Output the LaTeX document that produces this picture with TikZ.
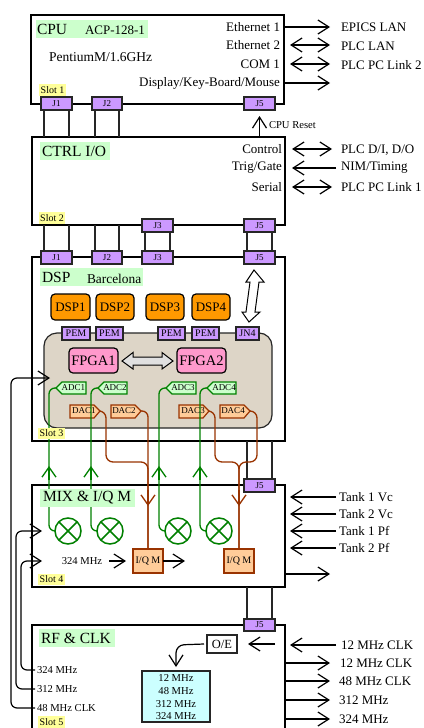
\documentclass[tikz,border=0pt]{standalone}
\usepackage{fontspec}
\setmainfont{Liberation Serif}
\usetikzlibrary{arrows.meta}
\definecolor{lblgreen}{HTML}{CCFFCC}
\definecolor{lblyellow}{HTML}{FFFF99}
\definecolor{conpurple}{HTML}{CC99FF}
\definecolor{dsporange}{HTML}{FF9900}
\definecolor{fpgapink}{HTML}{FF99CC}
\definecolor{clkcyan}{HTML}{CCFFFF}
\definecolor{peach}{HTML}{FFCC99}
\definecolor{sigbrown}{HTML}{993300}
\definecolor{siggreen}{HTML}{008000}
\definecolor{tanfill}{HTML}{DDD5C7}
\newcommand{\fs}[1]{\fontsize{#1}{#1}\selectfont}
% style, name, x1, y1, x2, y2, text
\newcommand{\rn}[7]{\node[#1,minimum width={(#5-#3)*1pt},minimum height={(#6-#4)*1pt}] (#2) at ({(#3+#5)/2},{(#4+#6)/2}) {#7};}
\newcommand{\wiresup}[2]{\draw[wire] ([xshift=3pt]#1.north west) -- ([xshift=3pt]#1.north west |- #2);\draw[wire] ([xshift=-3pt]#1.north east) -- ([xshift=-3pt]#1.north east |- #2);}
\newcommand{\wiresdown}[2]{\draw[wire] ([xshift=3pt]#1.south west) -- ([xshift=3pt]#1.south west |- #2);\draw[wire] ([xshift=-3pt]#1.south east) -- ([xshift=-3pt]#1.south east |- #2);}
\tikzset{
  x=1pt,y=-1pt,
  every node/.style={inner sep=0pt,outer sep=0pt},
  board/.style={draw=black,line width=1.4pt,fill=white},
  wire/.style={draw=black!85,line width=1.2pt},
  conn/.style={draw=black!85,line width=1.2pt,fill=conpurple,font=\fs{9}},
  pem/.style={conn,font=\fs{10}},
  lbl/.style={fill=lblgreen},
  slot/.style={fill=lblyellow,font=\fs{10}},
  dspbox/.style={draw=black,line width=1.2pt,fill=dsporange,rounded corners=4pt,font=\fs{13}},
  fpgabox/.style={draw=black,line width=1.2pt,fill=fpgapink,rounded corners=4pt,font=\fs{14.5}},
  iqbox/.style={draw=sigbrown,line width=1.2pt,fill=peach,font=\fs{10}},
  arr/.style={draw=black,line width=1.2pt,-{Straight Barb[length=11pt,width=14pt]}},
  darr/.style={draw=black,line width=1.2pt,{Straight Barb[length=11pt,width=14pt]}-{Straight Barb[length=11pt,width=14pt]}},
  gline/.style={draw=siggreen,line width=1.3pt},
  bline/.style={draw=sigbrown,line width=1.3pt},
  garr/.style={gline,-{Straight Barb[length=10pt,width=14pt]}},
  barr/.style={bline,-{Straight Barb[length=10pt,width=14pt]}},
  mixer/.style={circle,draw=siggreen,line width=1.5pt,minimum size=26pt,fill=white},
  txt/.style={font=\fs{13}},
  rtxt/.style={txt,anchor=west},
  ltxt/.style={txt,anchor=east},
  small/.style={font=\fs{10.6},anchor=west},
  blockarrow/.style={draw=black,line width=1pt,fill=white},
}
\begin{document}
\begin{tikzpicture}
\clip (0,0) rectangle (423,728);
\fill[white] (0,0) rectangle (423,728);
% boards
\rn{board}{cpu}{31}{15}{284}{104}{}
\rn{board}{ctrl}{32}{137}{285}{225}{}
\rn{board}{dsp}{32}{257}{285}{441}{}
\rn{board}{mix}{32}{485}{285}{587}{}
\rn{board}{rf}{32}{625}{285}{740}{}
\rn{draw=black!85,line width=1.2pt,fill=tanfill,rounded corners=13pt}{fpgaarea}{44}{333}{272}{428}{}
% column coordinates
\coordinate (rx) at (330,0);
\coordinate (rxin) at (290,0);
\coordinate (srcx) at (336,0);
% connectors
\rn{conn}{cj1}{41}{97}{72}{110}{J1}
\rn{conn}{cj2}{92}{97}{122}{110}{J2}
\rn{conn}{cj5}{244}{97}{275}{110}{J5}
\rn{conn}{tj3}{142}{219}{173}{232}{J3}
\rn{conn}{tj5}{244}{219}{275}{232}{J5}
\rn{conn}{dj1}{41}{251}{72}{264}{J1}
\rn{conn}{dj2}{92}{251}{122}{264}{J2}
\rn{conn}{dj3}{142}{251}{173}{264}{J3}
\rn{conn}{dj5}{244}{251}{275}{264}{J5}
\rn{conn}{mj5}{244}{479}{275}{492}{J5}
\rn{conn}{rj5}{244}{619}{275}{631}{J5}
\wiresdown{cj1}{ctrl.north}
\wiresdown{cj2}{ctrl.north}
\wiresup{dj1}{ctrl.south}
\wiresup{dj2}{ctrl.south}
\wiresup{dj3}{tj3.south}
\wiresup{dj5}{tj5.south}
\wiresup{mj5}{dsp.south}
\wiresup{rj5}{mix.south}
% CPU reset
\draw[arr] (cj5.south |- ctrl.north) -- ([yshift=-6pt]cj5.south);
\node[font=\fs{10.6},anchor=west] (cpureset) at (269,125) {CPU Reset};
% DSP chips
\rn{dspbox}{d1}{51}{294}{90}{320}{DSP1}
\rn{dspbox}{d2}{96}{294}{134}{320}{DSP2}
\rn{dspbox}{d3}{146}{294}{184}{320}{DSP3}
\rn{dspbox}{d4}{192}{294}{230}{320}{DSP4}
\rn{pem}{p1}{62}{327}{90}{340}{PEM}
\rn{pem}{p2}{96}{327}{123}{340}{PEM}
\rn{pem}{p3}{158}{327}{185}{340}{PEM}
\rn{pem}{p4}{192}{327}{219}{340}{PEM}
\rn{pem}{jn4}{236}{327}{259}{340}{JN4}
\rn{fpgabox}{f1}{69}{348}{118}{373}{FPGA1}
\rn{fpgabox}{f2}{177}{348}{226}{373}{FPGA2}
% block arrows
\draw[blockarrow,fill=black!12] (122,361) -- (133,352.5) -- (133,357) -- (162,357) -- (162,352.5) -- (173,361) -- (162,369) -- (162,365) -- (133,365) -- (133,369) -- cycle;
\draw[blockarrow] (254,270) -- (264,282) -- (259,282) -- (255,312) -- (260,312) -- (249,322) -- (242,312) -- (246,312) -- (250,282) -- (246,282) -- cycle;
% mixers
\node[mixer] (m1) at (68,531) {};
\node[mixer] (m2) at (110,531) {};
\node[mixer] (m3) at (178,531) {};
\node[mixer] (m4) at (219,531) {};
\foreach \m in {m1,m2,m3,m4}{
  \draw[draw=siggreen,line width=1.5pt] (\m.45) -- (\m.225) (\m.135) -- (\m.315);
}
% I/Q
\rn{iqbox}{iq1}{133}{549}{163}{573}{I/Q M}
\rn{iqbox}{iq2}{224}{549}{254}{573}{I/Q M}
% ADC/DAC pentagons
\foreach \n/\xa/\xb in {a1/56/86,a2/98/127,a3/166/196,a4/207/236}{
  \draw[draw=siggreen,line width=1.2pt,fill=lblgreen] (\xa,388) -- (\xa+6,382) -- (\xb,382) -- (\xb,394) -- (\xa+6,394) -- cycle;
  \coordinate (\n t) at (\xa,388);
}
\foreach \n/\xa/\xb in {d1/70/100,d2/111/141,d3/179/209,d4/220/250}{
  \draw[draw=sigbrown,line width=1.2pt,fill=peach] (\xa,405) -- (\xb-6,405) -- (\xb,411) -- (\xb-6,418) -- (\xa,418) -- cycle;
  \coordinate (\n t) at (\xb,411);
}
% green signal lines
\coordinate (w1) at (49,0);\coordinate (w2) at (91,0);\coordinate (w3) at (159,0);\coordinate (w4) at (200,0);
\draw[gline,rounded corners=6pt] (a1t) -- (a1t -| w1) -- (m1.west -| w1) -- (m1.west);
\draw[gline,rounded corners=6pt] (a2t) -- (a2t -| w2) -- (m2.west -| w2) -- (m2.west);
\draw[gline,rounded corners=6pt] (a3t) -- (a3t -| w3) -- (m3.west -| w3) -- (m3.west);
\draw[gline,rounded corners=6pt] (a4t) -- (a4t -| w4) -- (m4.west -| w4) -- (m4.west);
\draw[garr] (49,480) -- (49,466);
\draw[garr] (91,480) -- (91,466);
\draw[garr] (159,480) -- (159,466);
\draw[garr] (200,480) -- (200,466);
% brown signal lines
\draw[bline,rounded corners=7pt] (d1t) -- (106,411) -- (106,462) -- (148,462) -- (iq1.north);
\draw[bline,rounded corners=6pt] (d2t) -- (148,411) -- (iq1.north);
\draw[bline,rounded corners=7pt] (d3t) -- (215,411) -- (215,462) -- (239,462) -- (iq2.north);
\draw[bline,rounded corners=7pt] (d4t) -- (257,411) -- (257,462) -- (239,462) -- (iq2.north);
\draw[barr] (148,490) -- (148,506);
\draw[barr] (239,490) -- (239,506);
% green labels, above the lines
\rn{lbl}{cpulbl}{36}{20}{148}{38}{}
\rn{lbl}{ctrllbl}{40}{142}{110}{160}{}
\rn{lbl}{dsplbl}{40}{268}{143}{286}{}
\rn{lbl}{mixlbl}{40}{489}{135}{507}{}
\rn{lbl}{rflbl}{39}{629}{115}{647}{}
% pentagon texts
\foreach \n/\c/\t in {ta1/73.5/ADC1,ta2/115/ADC2,ta3/183/ADC3,ta4/224/ADC4}{
  \node[font=\fs{9}] (\n) at (\c,388) {\t};
}
\foreach \n/\c/\t in {td1/84/DAC1,td2/124/DAC2,td3/193/DAC3,td4/233/DAC4}{
  \node[font=\fs{9}] (\n) at (\c,411) {\t};
}
% slot labels
\rn{slot}{s1}{39}{84}{66}{96}{Slot 1}
\rn{slot}{s2}{39}{212}{65}{224}{Slot 2}
\rn{slot}{s3}{38}{428}{65}{439}{Slot 3}
\rn{slot}{s4}{38}{574}{65}{585}{Slot 4}
\rn{slot}{s5}{38}{716}{65}{727.5}{Slot 5}
% titles
\node[font=\fs{15.5},anchor=west] (tcpu) at (37,29) {CPU};
\node[font=\fs{13},anchor=west] (tacp) at (85,30) {ACP-128-1};
\node[font=\fs{13.5},anchor=west] (tpent) at (49,57) {PentiumM/1.6GHz};
\node[font=\fs{15.5},anchor=west] (tctrl) at (42,151) {CTRL I/O};
\node[font=\fs{15.5},anchor=west] (tdsp) at (42,277) {DSP};
\node[font=\fs{13.4},anchor=west] (tbar) at (87,279) {Barcelona};
\node[font=\fs{15.5},anchor=west] (tmix) at (43,498) {MIX \& I/Q M};
\node[font=\fs{15.5},anchor=west] (trf) at (41,638) {RF \& CLK};
% CPU right side
\node[ltxt] (eth1) at (280,27) {Ethernet 1};
\node[ltxt] (eth2) at (280,45) {Ethernet 2};
\node[ltxt] (com1) at (280,64) {COM 1};
\node[ltxt] (disp) at (280,83) {Display/Key-Board/Mouse};
\node[rtxt] (epics) at (341,27) {EPICS LAN};
\node[rtxt] (plclan) at (341,46) {PLC LAN};
\node[rtxt] (plc2) at (341,65) {PLC PC Link 2};
\draw[arr] (eth1 -| cpu.east) -- (eth1 -| rx);
\draw[darr] (eth2 -| rxin) -- (eth2 -| rx);
\draw[darr] (com1 -| rxin) -- (com1 -| rx);
\draw[arr] (disp -| cpu.east) -- (disp -| rx);
% CTRL right side
\node[ltxt] (ctl) at (282,149) {Control};
\node[ltxt] (trig) at (282,168) {Trig/Gate};
\node[ltxt] (ser) at (282,187) {Serial};
\node[rtxt] (plcd) at (341,150) {PLC D/I, D/O};
\node[rtxt] (nim) at (341,168) {NIM/Timing};
\node[rtxt] (plc1) at (341,187) {PLC PC Link 1};
\draw[darr] ([xshift=2pt]ctl -| rxin) -- ([xshift=2pt]ctl -| rx);
\draw[arr] (nim -| srcx) -- ([xshift=2pt]nim -| rxin);
\draw[darr] ([xshift=2pt]ser -| rxin) -- ([xshift=2pt]ser -| rx);
% Tank inputs
\node[rtxt] (t1) at (339,497) {Tank 1 Vc};
\node[rtxt] (t2) at (339,514) {Tank 2 Vc};
\node[rtxt] (t3) at (339,531) {Tank 1 Pf};
\node[rtxt] (t4) at (339,548) {Tank 2 Pf};
\draw[arr] (t1 -| srcx) -- (t1 -| rxin);
\draw[arr] (t2 -| srcx) -- (t2 -| rxin);
\draw[arr] (t3 -| srcx) -- (t3 -| rxin);
\draw[arr] (t4 -| srcx) -- (t4 -| rxin);
\coordinate (mixout) at (285,574);
\draw[arr] (mixout) -- (mixout -| rx);
% MIX 324
\node[font=\fs{10.6}] (m324) at (82,561) {324 MHz};
\draw[arr] (109,561) -- (126,561);
\draw[arr] (iq1.east) -- (185,561);
% RF right
\node[rtxt] (c12in) at (341,645) {12 MHz CLK};
\node[rtxt] (c12) at (340,663) {12 MHz CLK};
\node[rtxt] (c48) at (339,681) {48 MHz CLK};
\node[rtxt] (c312) at (339,700) {312 MHz};
\node[rtxt] (c324) at (339,719) {324 MHz};
\draw[arr] (c12in -| srcx) -- (c12in -| rxin);
\draw[arr] (c12 -| rf.east) -- (c12 -| rx);
\draw[arr] (c48 -| rf.east) -- (c48 -| rx);
\draw[arr] (c312 -| rf.east) -- (c312 -| rx);
\draw[arr] (c324 -| rf.east) -- (c324 -| rx);
% O/E and clock box
\rn{draw=black!85,line width=1.2pt,fill=white,font=\fs{12.5}}{oe}{207}{635}{237}{653}{O/E}
\rn{draw=black!85,line width=1.2pt,fill=clkcyan}{clk}{142}{671}{210}{722}{}
\node[font=\fs{10.6}] (cl1) at (176,678) {12 MHz};
\node[font=\fs{10.6}] (cl2) at (176,691) {48 MHz};
\node[font=\fs{10.6}] (cl3) at (176,704) {312 MHz};
\node[font=\fs{10.6}] (cl4) at (176,716) {324 MHz};
\coordinate (oein) at (275,644);
\draw[arr] (oein) -- ([xshift=11pt]oe.east |- oein);
\draw[arr,rounded corners=8pt] ([xshift=-3pt]oe.west) -- (176,645) -- (176,667);
% left clock lines
\node[small] (l324) at (37,670) {324 MHz};
\node[small] (l312) at (37,689) {312 MHz};
\node[small] (l48) at (37,708) {48 MHz CLK};
\coordinate (i1) at (50,378);\coordinate (i2) at (42,531);\coordinate (i3) at (42,561);
\draw[arr,rounded corners=6pt] ([xshift=-2pt]l48.west) -- (11,708) -- (11,378) -- (i1);
\draw[arr,rounded corners=6pt] ([xshift=-2pt]l312.west) -- (16,689) -- (16,531) -- (i2);
\draw[arr,rounded corners=6pt] ([xshift=-2pt]l324.west) -- (21,670) -- (21,561) -- (i3);
\end{tikzpicture}
\end{document}
